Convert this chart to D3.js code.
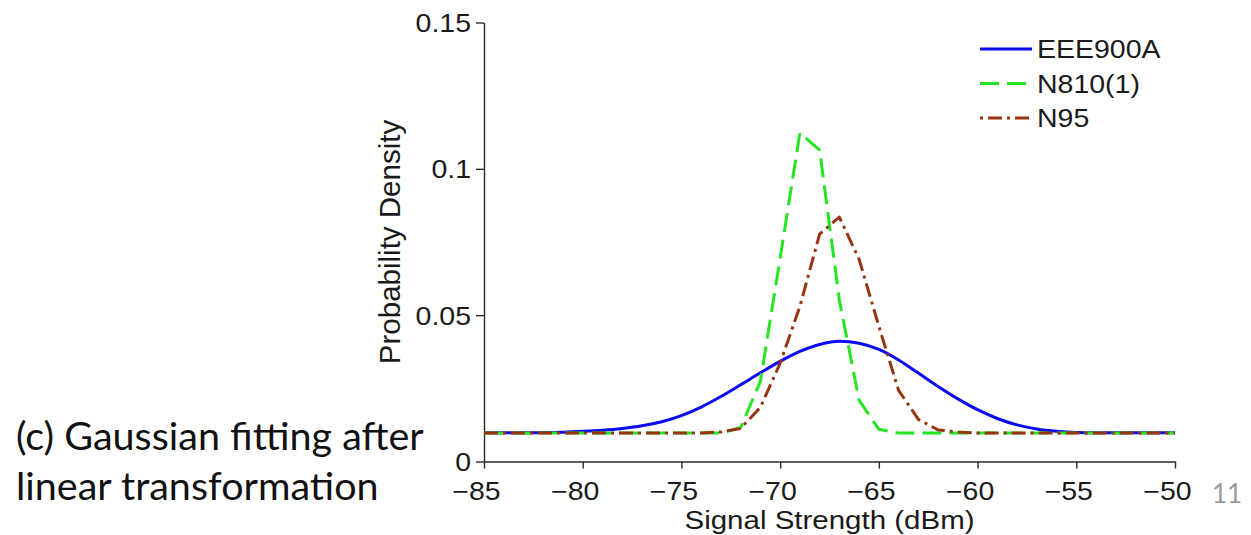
<!DOCTYPE html>
<html>
<head>
<meta charset="utf-8">
<script src="https://cdn.jsdelivr.net/npm/d3@7"></script>
<style>
  html, body { margin: 0; padding: 0; background: #fff; }
  svg { display: block; }
  .axis text { font-family: "Liberation Sans", Arial, sans-serif; font-size: 28.5px; fill: #1a1a1a; }
  .axis path, .axis line { stroke: #2a2a2a; stroke-width: 1.4; }
</style>
</head>
<body>
<svg id="chart" width="1251" height="535"></svg>
<script>
// Signal strength grid (dBm), one sample per dBm
const signal = d3.range(-85, -49, 1);

// Fitted probability density per device, one value per signal sample
const eee900a = [
  0.0098, 0.0098, 0.0098, 0.0099, 0.0100, 0.0103, 0.0107, 0.0113, 0.0122, 0.0136,
  0.0157, 0.0186, 0.0222, 0.0262, 0.0303, 0.0342, 0.0376, 0.0400, 0.0411, 0.0404,
  0.0383, 0.0347, 0.0302, 0.0256, 0.0214, 0.0177, 0.0147, 0.0125, 0.0111, 0.0103,
  0.0099, 0.0098, 0.0098, 0.0098, 0.0098, 0.0098
];
const n810 = [
  0.0097, 0.0097, 0.0097, 0.0097, 0.0097, 0.0097, 0.0097, 0.0097, 0.0097, 0.0097,
  0.0097, 0.0097, 0.0097, 0.0116, 0.0274, 0.0695, 0.1123, 0.1064, 0.0551, 0.0209,
  0.0110, 0.0097, 0.0097, 0.0097, 0.0097, 0.0097, 0.0097, 0.0097, 0.0097, 0.0097,
  0.0097, 0.0097, 0.0097, 0.0097, 0.0097, 0.0097
];
const n95 = [
  0.0097, 0.0097, 0.0097, 0.0097, 0.0097, 0.0097, 0.0097, 0.0097, 0.0097, 0.0097,
  0.0097, 0.0097, 0.0101, 0.0113, 0.0185, 0.0336, 0.0530, 0.0777, 0.0835, 0.0691,
  0.0462, 0.0243, 0.0144, 0.0108, 0.0101, 0.0097, 0.0097, 0.0097, 0.0097, 0.0097,
  0.0097, 0.0097, 0.0097, 0.0097, 0.0097, 0.0097
];

const seriesNames = ["EEE900A", "N810(1)", "N95"];
const seriesColors = ["#0a0af5", "#22e622", "#983412"];

const xTicks = [-85, -80, -75, -70, -65, -60, -55, -50];
const xTickLabels = ["\u221285", "\u221280", "\u221275", "\u221270", "\u221265", "\u221260", "\u221255", "\u221250"];
const yTicks = [0, 0.05, 0.1, 0.15];
const yTickLabels = ["0", "0.05", "0.1", "0.15"];

const xTitle = "Signal Strength (dBm)";
const yTitle = "Probability Density";
const captionLines = ["(c) Gaussian fitting after", "linear transformation"];
const pageNumber = "11";

// the figure's lettering is slightly compressed vertically
const squash = 0.88;

const svg = d3.select("#chart");

const x = d3.scaleLinear().domain([-85, -50]).range([484, 1175]);
const y = d3.scaleLinear().domain([0, 0.15]).range([461.5, 22.5]);

// Axes
const gx = svg.append("g")
  .attr("class", "axis")
  .attr("transform", `translate(0,${y(0)})`)
  .call(d3.axisBottom(x)
    .tickValues(xTicks)
    .tickFormat((d, i) => xTickLabels[i])
    .tickSize(7).tickSizeOuter(0).tickPadding(12));
// negative labels sit slightly left of their tick; baseline 38.5px under the axis
gx.selectAll(".tick text")
  .attr("y", 0).attr("dy", 0)
  .attr("transform", `translate(-8,38.5) scale(1,${squash})`);

const gy = svg.append("g")
  .attr("class", "axis")
  .attr("transform", `translate(${x(-85)},0)`)
  .call(d3.axisLeft(y)
    .tickValues(yTicks)
    .tickFormat((d, i) => yTickLabels[i])
    .tickSize(8).tickSizeOuter(0).tickPadding(5));
gy.selectAll(".tick text")
  .attr("x", 0).attr("dy", 0)
  .attr("transform", `translate(-13,9) scale(1,${squash})`);

// Axis titles
svg.append("text")
  .attr("transform", `translate(${(x(-85) + x(-50)) / 2},529) scale(1,${squash})`)
  .attr("text-anchor", "middle")
  .style("font-family", "'Liberation Sans', Arial, sans-serif")
  .style("font-size", "29.5px")
  .style("fill", "#1a1a1a")
  .text(xTitle);

svg.append("text")
  .attr("transform", `translate(400,${(y(0) + y(0.15)) / 2}) rotate(-90)`)
  .attr("text-anchor", "middle")
  .style("font-family", "'Liberation Sans', Arial, sans-serif")
  .style("font-size", "29.5px")
  .style("fill", "#1a1a1a")
  .text(yTitle);

// Density curves
const seriesData = [eee900a, n810, n95];
const dashes = [null, "19,8", "14,5,3,5"];
const curves = [d3.curveMonotoneX, d3.curveLinear, d3.curveLinear];

seriesData.forEach((vals, k) => {
  const line = d3.line()
    .x((d, i) => x(signal[i]))
    .y(d => y(d))
    .curve(curves[k]);
  svg.append("path")
    .datum(vals)
    .attr("d", line)
    .attr("fill", "none")
    .attr("stroke", seriesColors[k])
    .attr("stroke-width", 3)
    .attr("stroke-linejoin", "round")
    .attr("stroke-dasharray", dashes[k]);
});

// Legend
const legend = svg.append("g").attr("transform", "translate(980,49)");
seriesNames.forEach((name, k) => {
  const row = legend.append("g").attr("transform", `translate(0,${k * 34.5})`);
  row.append("line")
    .attr("x1", 0).attr("x2", 52)
    .attr("stroke", seriesColors[k])
    .attr("stroke-width", 3)
    .attr("stroke-dasharray", dashes[k])
    .attr("stroke-dashoffset", k === 2 ? 19 : 0);
  row.append("text")
    .attr("transform", `translate(57,9) scale(1,${squash})`)
    .style("font-family", "'Liberation Sans', Arial, sans-serif")
    .style("font-size", "28.5px")
    .style("fill", "#1a1a1a")
    .text(name);
});

// Slide caption
captionLines.forEach((t, i) => {
  svg.append("text")
    .attr("x", 16)
    .attr("y", 450 + i * 50)
    .style("font-family", "Lato, 'Open Sans', sans-serif")
    .style("font-size", "39.5px")
    .style("fill", "#111")
    .text(t);
});

svg.append("text")
  .attr("x", 1212)
  .attr("y", 503)
  .style("font-family", "Lato, 'Open Sans', sans-serif")
  .style("font-size", "26px")
  .style("fill", "#9a9a9a")
  .text(pageNumber);
</script>
</body>
</html>
